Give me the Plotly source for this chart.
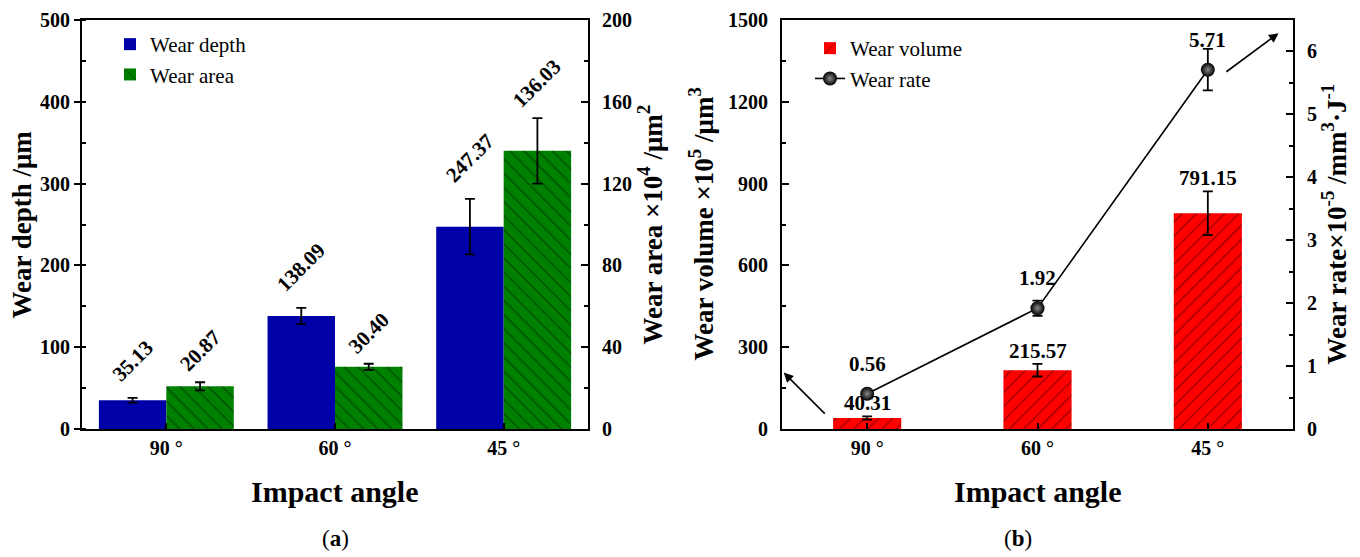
import plotly.graph_objects as go

# ---------------- data ----------------
categories = ["90 °", "60 °", "45 °"]
wear_depth = [35.13, 138.09, 247.37]
wear_depth_err = [3, 10, 34]
wear_area = [20.87, 30.40, 136.03]
wear_area_err = [2, 1.5, 16]
wear_volume = [40.31, 215.57, 791.15]
wear_volume_err = [6, 23, 80]
wear_rate = [0.56, 1.92, 5.71]
wear_rate_err = [0.05, 0.12, 0.33]

FONT = "Liberation Serif"
BLUE = "#0000A8"
GREEN = "#008000"
RED = "#FF0000"

W, H = 1360, 557
# plot-area pixel boxes
LX0, LX1 = 82, 588
RX0, RX1 = 782, 1293
YT, YB = 20, 429


def px_x(p):
    return p / W


def px_y(p):
    return 1 - p / H


err_style = dict(type="data", color="black", thickness=1.8, width=5, visible=True)

fig = go.Figure()

fig.add_trace(go.Bar(
    x=categories, y=wear_depth, name="Wear depth",
    marker=dict(color=BLUE, line=dict(width=0)),
    width=0.4, offset=-0.4,
    error_y=dict(array=wear_depth_err, **err_style),
    xaxis="x", yaxis="y", legend="legend",
))
fig.add_trace(go.Bar(
    x=categories, y=wear_area, name="Wear area",
    marker=dict(color=GREEN, line=dict(width=0),
                pattern=dict(shape="\\", fgcolor="black", bgcolor=GREEN, size=10, solidity=0.1)),
    width=0.4, offset=0.0,
    error_y=dict(array=wear_area_err, **err_style),
    xaxis="x", yaxis="y2", legend="legend",
))
fig.add_trace(go.Bar(
    x=categories, y=wear_volume, name="Wear volume",
    marker=dict(color=RED, line=dict(width=0),
                pattern=dict(shape="/", fgcolor="black", bgcolor=RED, size=10, solidity=0.1)),
    width=0.4,
    error_y=dict(array=wear_volume_err, **err_style),
    xaxis="x2", yaxis="y3", legend="legend2",
))
fig.add_trace(go.Scatter(
    x=categories, y=wear_rate, name="Wear rate", mode="lines+markers",
    line=dict(color="black", width=1.6),
    marker=dict(color="black", size=14, gradient=dict(type="radial", color="#8a8a8a")),
    error_y=dict(array=wear_rate_err, **err_style),
    xaxis="x2", yaxis="y4", legend="legend2",
))

tickfont = dict(family=FONT, size=20, color="black", weight="bold")
base_axis = dict(showline=True, linecolor="black", linewidth=2, showgrid=False, zeroline=False,
                 tickfont=tickfont, tickcolor="black", tickwidth=2, automargin=False)
ydom = [px_y(YB), px_y(YT)]

fig.update_layout(
    width=W, height=H,
    margin=dict(l=0, r=0, t=0, b=0, autoexpand=False),
    paper_bgcolor="white", plot_bgcolor="white",
    barmode="overlay",
    xaxis=dict(base_axis, domain=[px_x(LX0), px_x(LX1)], anchor="y", type="category",
               range=[-0.5, 2.5], ticks="inside", ticklen=6, mirror=True, ticklabelstandoff=0),
    yaxis=dict(base_axis, domain=ydom, anchor="x", range=[0, 500], dtick=100,
               ticks="outside", ticklen=6,
               minor=dict(ticks="inside", ticklen=4, dtick=50, tickcolor="black", tickwidth=2)),
    yaxis2=dict(base_axis, overlaying="y", side="right", anchor="x", range=[0, 200], dtick=40,
                ticks="inside", ticklen=7, ticklabelstandoff=8,
                minor=dict(ticks="inside", ticklen=4, dtick=20, tickcolor="black", tickwidth=2)),
    xaxis2=dict(base_axis, domain=[px_x(RX0), px_x(RX1)], anchor="y3", type="category",
                range=[-0.5, 2.5], ticks="inside", ticklen=6, mirror=True, ticklabelstandoff=0),
    yaxis3=dict(base_axis, domain=ydom, anchor="x2", range=[0, 1500], dtick=300,
                ticks="inside", ticklen=7, ticklabelstandoff=8,
                minor=dict(ticks="inside", ticklen=4, dtick=150, tickcolor="black", tickwidth=2)),
    yaxis4=dict(base_axis, overlaying="y3", side="right", anchor="x2", range=[0, 6.5], dtick=1,
                ticks="inside", ticklen=7, ticklabelstandoff=8,
                minor=dict(ticks="inside", ticklen=4, dtick=0.5, tickcolor="black", tickwidth=2)),
    legend=dict(x=px_x(110), y=px_y(24), xanchor="left", yanchor="top",
                font=dict(family=FONT, size=21, color="black"), bgcolor="rgba(0,0,0,0)",
                tracegroupgap=0),
    legend2=dict(x=px_x(810), y=px_y(28), xanchor="left", yanchor="top",
                 font=dict(family=FONT, size=21, color="black"), bgcolor="rgba(0,0,0,0)",
                 tracegroupgap=0),
)

annotations = []
lab_font = dict(family=FONT, size=21, color="black", weight="bold")

# rotated value labels for left panel
for i, (v, e) in enumerate(zip(wear_depth, wear_depth_err)):
    annotations.append(dict(x=i - 0.2, y=v + e, xref="x", yref="y", text=f"{v:.2f}",
                            textangle=-45, showarrow=False, xanchor="center", yanchor="bottom",
                            yshift=9, font=lab_font))
for i, (v, e) in enumerate(zip(wear_area, wear_area_err)):
    annotations.append(dict(x=i + 0.2, y=v + e, xref="x", yref="y2", text=f"{v:.2f}",
                            textangle=-45, showarrow=False, xanchor="center", yanchor="bottom",
                            yshift=3, font=lab_font))
# right panel labels
for i, (v, e) in enumerate(zip(wear_volume, wear_volume_err)):
    annotations.append(dict(x=i, y=v + e, xref="x2", yref="y3", text=f"{v:.2f}",
                            showarrow=False, xanchor="center", yanchor="bottom",
                            yshift=-1, font=lab_font))
for i, v in enumerate(wear_rate):
    annotations.append(dict(x=i, y=v, xref="x2", yref="y4", text=f"{v:.2f}",
                            showarrow=False, xanchor="center", yanchor="bottom",
                            yshift=16, font=lab_font))

# axis titles
ttl_font = dict(family=FONT, size=27, color="black", weight="bold")
ymid = px_y((YT + YB) / 2)
C = dict(xref="paper", yref="paper", showarrow=False, xanchor="center", yanchor="middle")
annotations += [
    dict(C, x=px_x(22), y=ymid, text="Wear depth /μm", textangle=-90, font=ttl_font),
    dict(C, x=px_x(651), y=ymid, text="Wear area ×10<sup>4</sup> /μm<sup>2</sup>",
         textangle=-90, font=ttl_font),
    dict(C, x=px_x(702), y=ymid, text="Wear volume ×10<sup>5</sup> /μm<sup>3</sup>",
         textangle=-90, font=ttl_font),
    dict(C, x=px_x(1335), y=ymid, text="Wear rate×10<sup>-5</sup> /mm<sup>3</sup>·J<sup>-1</sup>",
         textangle=-90, font=ttl_font),
    dict(C, x=px_x((LX0 + LX1) / 2), y=px_y(491), text="Impact angle",
         font=dict(family=FONT, size=30, color="black", weight="bold")),
    dict(C, x=px_x((RX0 + RX1) / 2), y=px_y(491), text="Impact angle",
         font=dict(family=FONT, size=30, color="black", weight="bold")),
    dict(C, x=px_x(335), y=px_y(538), text="(<b>a</b>)",
         font=dict(family=FONT, size=23, color="black")),
    dict(C, x=px_x(1018), y=px_y(538), text="(<b>b</b>)",
         font=dict(family=FONT, size=23, color="black")),
]

# arrows pointing to the relevant axes
annotations += [
    dict(x=-0.49, y=207, xref="x2", yref="y3", ax=-0.24, ay=51, axref="x2", ayref="y3",
         showarrow=True, arrowhead=2, arrowsize=1.2, arrowwidth=1.6, arrowcolor="black", text=""),
    dict(x=2.415, y=6.29, xref="x2", yref="y4", ax=2.10, ay=5.66, axref="x2", ayref="y4",
         showarrow=True, arrowhead=2, arrowsize=1.2, arrowwidth=1.6, arrowcolor="black", text=""),
]

fig.update_layout(annotations=annotations)

fig.write_html("out.html")
